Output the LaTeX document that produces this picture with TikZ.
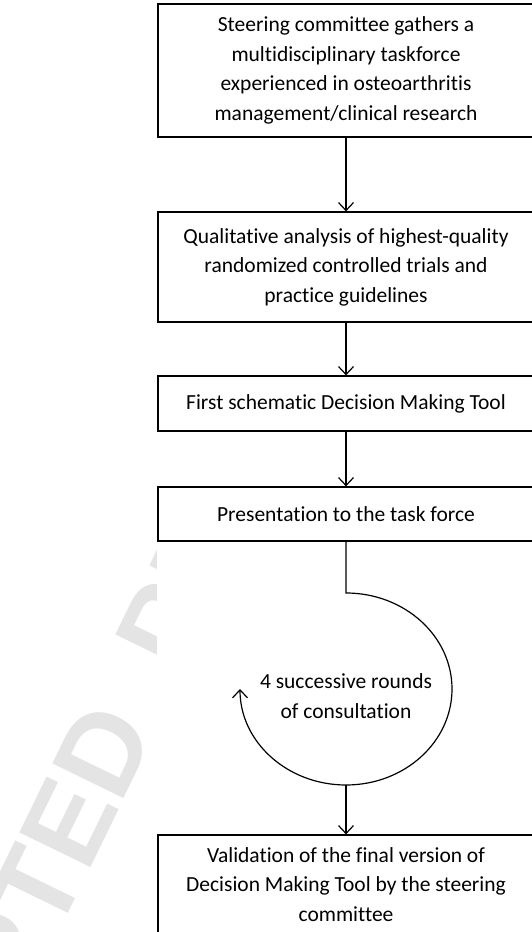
\documentclass[tikz,border=0pt]{standalone}
\usepackage{fontspec}
\setmainfont{Carlito}[Ligatures={NoCommon,NoRare,NoContextual}]
\newfontfamily\wmfont{Liberation Sans}
\usetikzlibrary{arrows.meta}
\definecolor{wmgray}{RGB}{228,228,228}
\begin{document}
\begin{tikzpicture}[x=1pt,y=1pt,
  stepbox/.style={draw, line width=1.2pt, fill=white, minimum width=376pt,
    align=center, inner sep=0pt, font=\fontsize{21.5}{29.5}\selectfont},
  lbl/.style={align=center, inner sep=0pt, font=\fontsize{21.5}{29.5}\selectfont},
  conn/.style={line width=1.2pt, -{Straight Barb[length=8pt,width=15pt,line width=1.2pt]}},
  wm/.style={font=\wmfont\bfseries\fontsize{115}{115}\selectfont, text=wmgray,
    rotate=64, anchor=base west, inner sep=0pt}]
\useasboundingbox (0,0) rectangle (531,932);
% watermark (visible only left of the figure)
\node[wm] (wmark) at (-120,-367.3) {ACCEPTED\hspace{28pt} PR};
\fill[white] (157,-10) rectangle (540,942);
% boxes
\node[stepbox, minimum height=133pt] (b1) at (346,861.5)
  {Steering committee gathers a\\multidisciplinary taskforce\\experienced in osteoarthritis\\management/clinical research};
\node[stepbox, minimum height=110pt] (b2) at (346,665)
  {Qualitative analysis of highest-quality\\randomized controlled trials and\\practice guidelines};
\node[stepbox, minimum height=55pt] (b3) at (346,528.5)
  {First schematic Decision Making Tool};
\node[stepbox, minimum height=54pt] (b4) at (346,418)
  {Presentation to the task force};
\node[stepbox, minimum height=99pt] (b5) at (346,47.5)
  {Validation of the final version of\\Decision Making Tool by the steering\\committee};
% connectors
\draw[conn] (b1) -- (b2);
\draw[conn] (b2) -- (b3);
\draw[conn] (b3) -- (b4);
\coordinate (looptop) at (346,339);
\coordinate (loopbot) at (346,147);
\draw[conn] (b4.south) -- (looptop) arc[start angle=90, end angle=-180, x radius=106, y radius=96];
\draw[conn] (loopbot) -- (b5.north);
\node[lbl] (looplbl) at (346,236) {4 successive rounds\\of consultation};
\end{tikzpicture}
\end{document}
